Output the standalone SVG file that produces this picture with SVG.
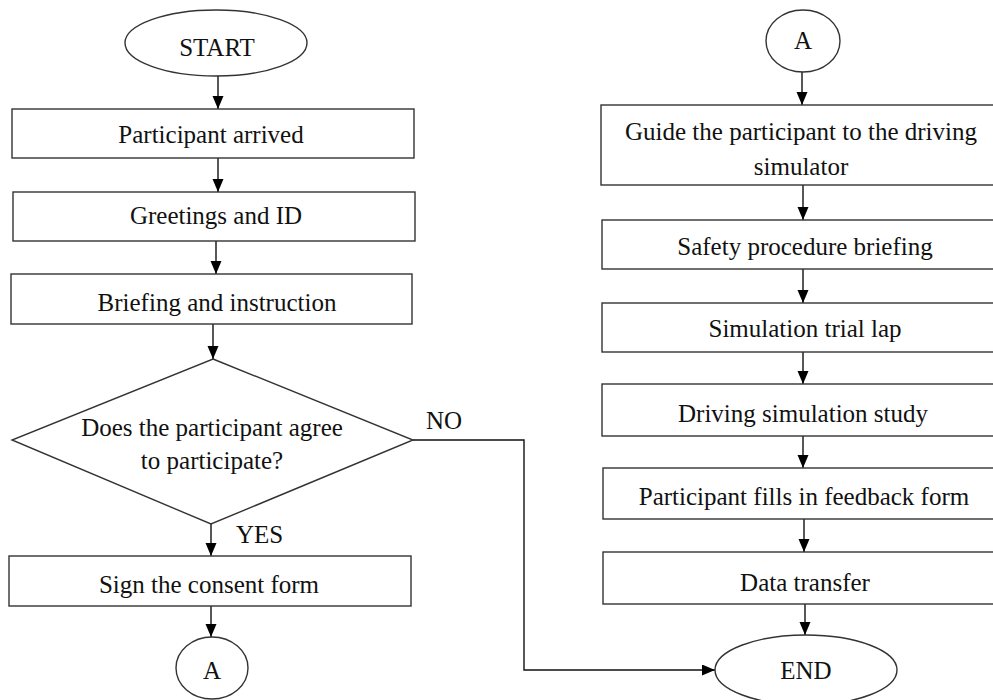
<svg xmlns="http://www.w3.org/2000/svg" width="993" height="700" viewBox="0 0 993 700">
<style>
.s{fill:#fff;stroke:#333;stroke-width:1.4}
.t{font-family:"Liberation Serif","Times New Roman",serif;font-size:25px;fill:#111;text-anchor:middle}
.l{font-family:"Liberation Serif","Times New Roman",serif;font-size:25px;fill:#111}
.c{fill:none;stroke:#111;stroke-width:1.4}
</style>
<defs>
<marker id="ah" markerUnits="userSpaceOnUse" markerWidth="14" markerHeight="12" refX="13" refY="5.5" orient="auto">
<path d="M0,0 L13,5.5 L0,11 z" fill="#000"/>
</marker>
</defs>
<rect width="993" height="700" fill="#fff"/>
<g id="connectors">
<line class="c" x1="218" y1="76" x2="218" y2="109" marker-end="url(#ah)"/>
<line class="c" x1="218" y1="158" x2="218" y2="192" marker-end="url(#ah)"/>
<line class="c" x1="216" y1="241" x2="216" y2="274" marker-end="url(#ah)"/>
<line class="c" x1="213" y1="324" x2="213" y2="359" marker-end="url(#ah)"/>
<line class="c" x1="211" y1="524" x2="211" y2="556" marker-end="url(#ah)"/>
<line class="c" x1="211" y1="606" x2="211" y2="637" marker-end="url(#ah)"/>
<polyline class="c" points="413,440 524,440 524,670 715,670" marker-end="url(#ah)"/>
<line class="c" x1="802" y1="72" x2="802" y2="105" marker-end="url(#ah)"/>
<line class="c" x1="803" y1="185" x2="803" y2="220" marker-end="url(#ah)"/>
<line class="c" x1="803" y1="269" x2="803" y2="303" marker-end="url(#ah)"/>
<line class="c" x1="803" y1="352" x2="803" y2="384" marker-end="url(#ah)"/>
<line class="c" x1="803" y1="436" x2="803" y2="468" marker-end="url(#ah)"/>
<line class="c" x1="804" y1="519" x2="804" y2="552" marker-end="url(#ah)"/>
<line class="c" x1="805" y1="604" x2="805" y2="635" marker-end="url(#ah)"/>
<text class="l" x="426" y="429">NO</text>
<text class="l" x="236" y="543">YES</text>
</g>
<g id="start">
<ellipse class="s" cx="216" cy="43" rx="91" ry="33"/>
<text class="t" x="217" y="56">START</text>
</g>
<g id="arrived">
<rect class="s" x="12" y="109" width="402" height="49"/>
<text class="t" x="211" y="143">Participant arrived</text>
</g>
<g id="greetings">
<rect class="s" x="13" y="192" width="402" height="49"/>
<text class="t" x="216" y="224">Greetings and ID</text>
</g>
<g id="briefing">
<rect class="s" x="11" y="274" width="401" height="50"/>
<text class="t" x="217" y="311">Briefing and instruction</text>
</g>
<g id="decision">
<polygon class="s" points="213,359 413,440 211,524 12,440"/>
<text class="t" x="212" y="436">Does the participant agree</text>
<text class="t" x="212" y="469">to participate?</text>
</g>
<g id="consent">
<rect class="s" x="9" y="556" width="402" height="50"/>
<text class="t" x="209" y="593">Sign the consent form</text>
</g>
<g id="connA1">
<ellipse class="s" cx="212" cy="668" rx="36" ry="31"/>
<text class="t" x="212" y="679">A</text>
</g>
<g id="connA2">
<ellipse class="s" cx="803" cy="41" rx="37" ry="31"/>
<text class="t" x="803" y="49">A</text>
</g>
<g id="guide">
<rect class="s" x="601" y="105" width="400" height="80"/>
<text class="t" x="801" y="140">Guide the participant to the driving</text>
<text class="t" x="801" y="175">simulator</text>
</g>
<g id="safety">
<rect class="s" x="602" y="220" width="400" height="49"/>
<text class="t" x="805" y="255">Safety procedure briefing</text>
</g>
<g id="trial">
<rect class="s" x="602" y="303" width="400" height="49"/>
<text class="t" x="805" y="337">Simulation trial lap</text>
</g>
<g id="study">
<rect class="s" x="602" y="384" width="400" height="52"/>
<text class="t" x="803" y="422">Driving simulation study</text>
</g>
<g id="feedback">
<rect class="s" x="603" y="468" width="400" height="51"/>
<text class="t" x="804" y="505">Participant fills in feedback form</text>
</g>
<g id="transfer">
<rect class="s" x="603" y="552" width="400" height="52"/>
<text class="t" x="805" y="591">Data transfer</text>
</g>
<g id="end">
<ellipse class="s" cx="806" cy="670" rx="91" ry="35"/>
<text class="t" x="806" y="679">END</text>
</g>
</svg>
